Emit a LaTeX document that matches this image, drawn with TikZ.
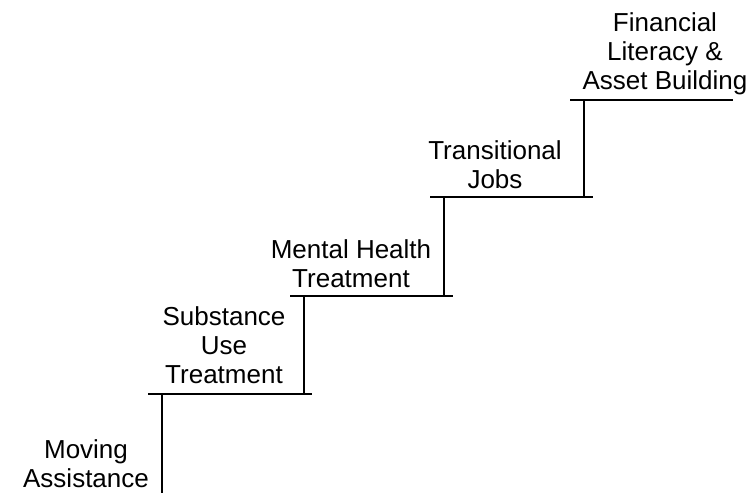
\documentclass[tikz,border=0pt]{standalone}
\usepackage{fontspec}
\setmainfont{Liberation Sans}
\usepackage{tikz}
\usetikzlibrary{positioning}

\begin{document}
\begin{tikzpicture}[x=1pt, y=-1pt,
    stair/.style={draw, line width=1.6pt},
    lbl/.style={inner sep=0pt, align=center, anchor=south, font=\fontsize{26}{29}\selectfont}
]
    \useasboundingbox (0,0) rectangle (753,493);
    % risers and treads
    \coordinate (base) at (162,493);
    \coordinate (r1) at (162,394);
    \coordinate (r2) at (304,296);
    \coordinate (r3) at (444,197);
    \coordinate (r4) at (584,100);
    \draw[stair] (base) -- (r1);
    \draw[stair] ([xshift=-14pt]r1) -- ([xshift=150pt]r1);
    \draw[stair] (r1 -| r2) -- (r2);
    \draw[stair] ([xshift=-14pt]r2) -- ([xshift=149pt]r2);
    \draw[stair] (r2 -| r3) -- (r3);
    \draw[stair] ([xshift=-14pt]r3) -- ([xshift=149pt]r3);
    \draw[stair] (r3 -| r4) -- (r4);
    \draw[stair] ([xshift=-14pt]r4) -- ([xshift=149pt]r4);
    % step labels
    \node[lbl] (moving) at (86,488) {Moving\\Assistance};
    \node[lbl] (substance) at (224,384) {Substance\\Use\\Treatment};
    \node[lbl] (mental) at (351,288) {Mental Health\\Treatment};
    \node[lbl] (jobs) at (495,189) {Transitional\\Jobs};
    \node[lbl] (finance) at (665,95) {Financial\\Literacy \&\\Asset Building};
\end{tikzpicture}
\end{document}
